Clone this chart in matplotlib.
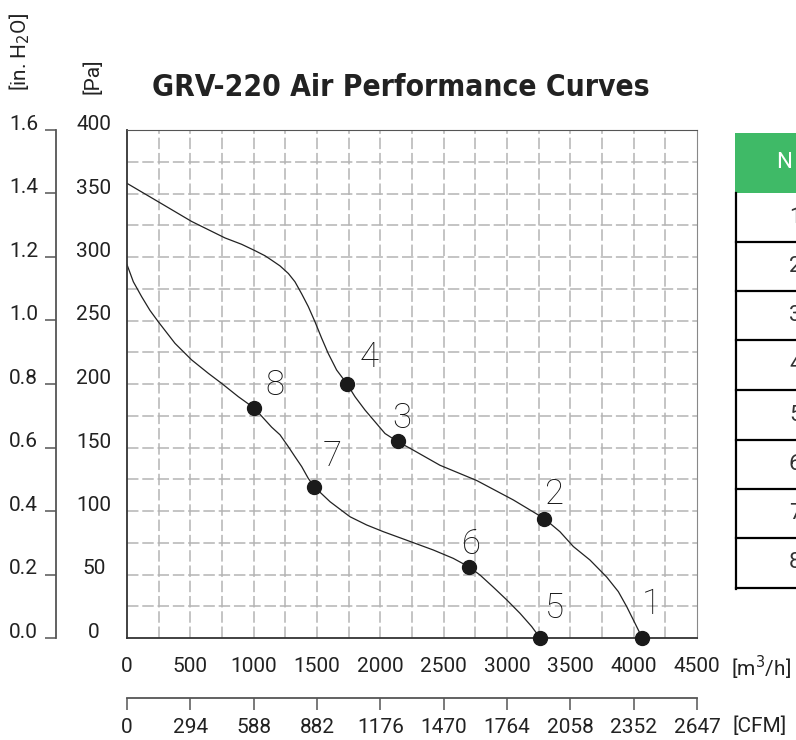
import matplotlib.pyplot as plt
from matplotlib.patches import Rectangle
from matplotlib.lines import Line2D

plt.rcParams['font.family'] = ['Roboto', 'DejaVu Sans']

# upper curve (points 1-4), m3/h vs Pa
upper_x = [0, 247, 510, 774, 905, 1010, 1089, 1142, 1208, 1274, 1326, 1379, 1431,
           1484, 1537, 1589, 1655, 1734, 1800, 1879, 2037, 2137, 2234, 2471, 2761,
           3050, 3182, 3295, 3418, 3524, 3655, 3787, 3879, 3945, 4011, 4068]
upper_y = [358, 343.5, 328, 315, 310, 305, 301, 297.5, 293, 287, 280.5, 271, 261,
           249, 236, 224, 211, 200.5, 190, 179.5, 161, 154.6, 149.4, 136, 124,
           108.7, 100.8, 94, 83.7, 72, 61.4, 48, 36.5, 24.7, 11.5, 0]

# lower curve (points 5-8)
lower_x = [0, 50, 116, 181, 247, 379, 510, 642, 747, 879, 1005, 1142, 1208, 1274,
           1326, 1379, 1431, 1479, 1603, 1760, 1892, 2024, 2208, 2418, 2576, 2700,
           2787, 2892, 2998, 3103, 3195, 3261]
lower_y = [294, 280.5, 268.7, 258, 249, 232, 219, 208.4, 200.5, 190, 181, 166, 160,
           150.6, 142.8, 135, 125.7, 119, 107.3, 95.5, 89, 83.7, 77, 69.3, 62.7, 56,
           49.6, 40, 30, 19.4, 9, 0]

pt_labels = ["1", "2", "3", "4", "5", "6", "7", "8"]
pt_x = [4068, 3295, 2137, 1734, 3261, 2700, 1479, 1005]
pt_y = [0, 94, 155, 200, 0, 56, 119, 181]

m3h_ticks = [0, 500, 1000, 1500, 2000, 2500, 3000, 3500, 4000, 4500]
cfm_labels = ["0", "294", "588", "882", "1176", "1470", "1764", "2058", "2352", "2647"]
pa_ticks = [0, 50, 100, 150, 200, 250, 300, 350, 400]
inh2o_labels = ["0.0", "0.2", "0.4", "0.6", "0.8", "1.0", "1.2", "1.4", "1.6"]
table_rows = ["1", "2", "3", "4", "5", "6", "7", "8"]

W, H = 796, 740
fig = plt.figure(figsize=(W / 100, H / 100), dpi=100)
ax = fig.add_axes([127 / W, 1 - 638 / H, 570 / W, 508 / H])

ax.set_xlim(0, 4500)
ax.set_ylim(0, 400)

# dashed grid
for gx in range(250, 4500, 250):
    ax.axvline(gx, color='#b4b4b4', lw=1.1, ls=(0, (7.5, 2.5)), zorder=0)
for gy in range(25, 400, 25):
    ax.axhline(gy, color='#b4b4b4', lw=1.1, ls=(0, (7.5, 2.5)), zorder=0)

ax.plot(upper_x, upper_y, color='#222222', lw=0.9, zorder=2)
ax.plot(lower_x, lower_y, color='#222222', lw=0.9, zorder=2)
ax.plot(pt_x, pt_y, 'o', color='#1a1a1a', ms=10, clip_on=False, zorder=3)

label_off = [(9, 34), (10, 24), (4, 23), (22, 27), (14, 30), (2, 23), (18, 31), (21, 23)]
for lab, x, y, off in zip(pt_labels, pt_x, pt_y, label_off):
    ax.annotate(lab, (x, y), xytext=off, textcoords='offset pixels',
                ha='center', va='center', fontsize=25, fontweight='light',
                color='#111111')

for side in ['left', 'bottom']:
    ax.spines[side].set_color('#333333')
    ax.spines[side].set_linewidth(1.3)
ax.spines['top'].set_color('#555555')
ax.spines['right'].set_color('#888888')

# m3/h labels and Pa labels
ax.set_xticks(m3h_ticks)
ax.set_xticklabels([str(v) for v in m3h_ticks])
ax.set_yticks(pa_ticks)
ax.set_yticklabels([str(v) for v in pa_ticks])
ax.tick_params(axis='x', length=0, pad=14, labelsize=15, labelcolor='#222222')
ax.tick_params(axis='y', length=0, pad=24, labelsize=15, labelcolor='#222222')
for t in ax.get_yticklabels():
    t.set_ha('center')
    t.set_va('baseline')

# CFM axis
sec_x = ax.secondary_xaxis(-60 / 508)
sec_x.set_xticks(m3h_ticks)
sec_x.set_xticklabels(cfm_labels)
sec_x.tick_params(direction='out', length=8.5, width=1.1, color='#555555',
                  pad=6, labelsize=15, labelcolor='#222222')
sec_x.spines['bottom'].set_color('#555555')
sec_x.spines['bottom'].set_linewidth(1.3)

# in. H2O axis
sec_y = ax.secondary_yaxis(-71 / 570)
sec_y.set_yticks(pa_ticks)
sec_y.set_yticklabels(inh2o_labels)
sec_y.tick_params(direction='out', length=8, width=1.1, color='#555555',
                  pad=5, labelsize=15, labelcolor='#222222')
sec_y.spines['left'].set_color('#555555')
sec_y.spines['left'].set_linewidth(1.3)
for t in sec_y.get_yticklabels():
    t.set_va('baseline')

# units
fig.text(731 / W, 1 - 668 / H, "[m$^3$/h]", ha='left', va='center', fontsize=15, color='#222222')
fig.text(733 / W, 1 - 726 / H, "[CFM]", ha='left', va='center', fontsize=15, color='#222222')
fig.text(20 / W, 1 - 52 / H, "[in. H$_2$O]", rotation=90, ha='center', va='center',
         fontsize=15, color='#222222')
fig.text(93 / W, 1 - 76 / H, "[Pa]", rotation=90, ha='center', va='center',
         fontsize=15, color='#222222')

fig.text(401 / W, 1 - 87 / H, "GRV-220 Air Performance Curves", ha='center', va='center',
         fontsize=21.5, fontweight='bold', fontstretch='condensed', color='#222222',
         family=['DejaVu Sans'])

# table (cut by the right edge)
fig.add_artist(Rectangle((735 / W, 1 - 193 / H), 80 / W, 60 / H,
                         transform=fig.transFigure, color='#3fba67', lw=0))
fig.text(776 / W, 1 - 163 / H, "N", ha='left', va='center', fontsize=16, color='white')
row_lines = [193, 242, 291, 340, 390, 440, 489, 538, 588]
fig.add_artist(Line2D([736 / W, 736 / W], [1 - 193 / H, 1 - 589 / H],
                      transform=fig.transFigure, color='black', lw=1.6))
for yy in row_lines[1:]:
    fig.add_artist(Line2D([736 / W, 1], [1 - yy / H, 1 - yy / H],
                          transform=fig.transFigure, color='black', lw=1.6))
for lab, y0, y1 in zip(table_rows, row_lines[:-1], row_lines[1:]):
    fig.text(789 / W, 1 - (y0 + y1) / 2 / H, lab, ha='left', va='center',
             fontsize=16, color='#333333')

fig.savefig('out.png', dpi=100)
